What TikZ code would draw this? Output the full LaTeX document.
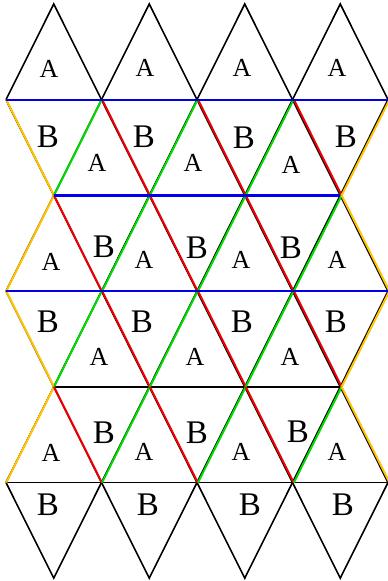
\documentclass[tikz,border=0pt]{standalone}
\usepackage{fontspec}
\setmainfont{Liberation Serif}
\definecolor{eblue}{RGB}{0,0,235}
\definecolor{egreen}{RGB}{0,220,0}
\definecolor{ered}{RGB}{240,0,0}
\definecolor{eyellow}{RGB}{255,195,0}
\begin{document}
\begin{tikzpicture}[x=1pt,y=-1pt,
  edge/.style={black,line width=1.6pt},
  cedge/.style={line width=2pt},
  bedge/.style={eblue,line width=2.3pt},
  la/.style={font=\fontsize{26}{26}\selectfont,inner sep=0pt},
  lb/.style={font=\fontsize{33}{33}\selectfont,inner sep=0pt}]
\useasboundingbox (0,0) rectangle (388,581);
% grid points
\foreach \r in {1,3,5} \foreach \c in {0,...,4}
  \coordinate (v\r-\c) at ({6+95.5*\c},{4+95.7*\r});
\foreach \r in {0,2,4,6} \foreach \c in {0,...,3}
  \coordinate (v\r-\c) at ({53.75+95.5*\c},{4+95.7*\r});
% black edges
\foreach \c in {0,...,3} {
  \pgfmathtruncatemacro\n{\c+1}
  \draw[edge] (v1-\c) -- (v0-\c) -- (v1-\n);
  \draw[edge] (v5-\c) -- (v6-\c) -- (v5-\n);
  \draw[edge] (v1-\c) -- (v2-\c) -- (v1-\n);
  \draw[edge] (v3-\c) -- (v4-\c) -- (v3-\n);
  \draw[edge] (v3-\c) -- (v2-\c) -- (v3-\n);
  \draw[edge] (v5-\c) -- (v4-\c) -- (v5-\n);
}
\draw[edge] (v1-0) -- (v1-4);
\draw[edge] (v3-0) -- (v3-4);
\draw[edge] (v5-0) -- (v5-4);
\draw[edge] (v2-0) -- (v2-3);
\draw[edge] (v4-0) -- (v4-3);
% coloured overlay
\foreach \r in {1,3} {
  \pgfmathtruncatemacro\rr{\r+1}
  \foreach \c/\ca/\cb in {0/eyellow/egreen,1/ered/egreen,2/ered/egreen,3/ered/eyellow} {
    \pgfmathtruncatemacro\n{\c+1}
    \pgfmathsetmacro\s{0.25+0.38*\c}
    \draw[cedge,\ca,transform canvas={xshift=\s pt}] (v\r-\c) -- (v\rr-\c);
    \draw[cedge,\cb,transform canvas={xshift=\s pt}] (v\r-\n) -- (v\rr-\c);
  }
}
\foreach \r in {2,4} {
  \pgfmathtruncatemacro\rr{\r+1}
  \foreach \c/\ca/\cb in {0/eyellow/ered,1/egreen/ered,2/egreen/ered,3/egreen/eyellow} {
    \pgfmathtruncatemacro\n{\c+1}
    \pgfmathsetmacro\s{0.25+0.38*\c}
    \draw[cedge,\ca,transform canvas={xshift=\s pt}] (v\r-\c) -- (v\rr-\c);
    \draw[cedge,\cb,transform canvas={xshift=\s pt}] (v\r-\c) -- (v\rr-\n);
  }
}
\draw[bedge] (v1-0) -- (v1-4);
\draw[bedge] (v2-0) -- (v2-3);
\draw[bedge] (v3-0) -- (v3-4);
% labels
\node[la] (a01) at (49,69) {A};
\node[la] (a02) at (145,68) {A};
\node[la] (a03) at (242,68) {A};
\node[la] (a04) at (337,68) {A};
\node[lb] (b11) at (48,137) {B};
\node[lb] (b12) at (144,137) {B};
\node[lb] (b13) at (244,138) {B};
\node[lb] (b14) at (346,137) {B};
\node[la] (a11) at (97,163) {A};
\node[la] (a12) at (193,163) {A};
\node[la] (a13) at (291,165) {A};
\node[la] (a21) at (51,262) {A};
\node[la] (a22) at (144,260) {A};
\node[la] (a23) at (241,260) {A};
\node[la] (a24) at (337,260) {A};
\node[lb] (b21) at (104,247) {B};
\node[lb] (b22) at (197,248) {B};
\node[lb] (b23) at (291,248) {B};
\node[lb] (b31) at (48,322) {B};
\node[lb] (b32) at (142,322) {B};
\node[lb] (b33) at (242,322) {B};
\node[lb] (b34) at (336,322) {B};
\node[la] (a31) at (99,357) {A};
\node[la] (a32) at (195,357) {A};
\node[la] (a33) at (290,357) {A};
\node[la] (a41) at (51,453) {A};
\node[la] (a42) at (144,452) {A};
\node[la] (a43) at (241,452) {A};
\node[la] (a44) at (337,452) {A};
\node[lb] (b41) at (104,433) {B};
\node[lb] (b42) at (197,433) {B};
\node[lb] (b43) at (298,432) {B};
\node[lb] (b51) at (48,505) {B};
\node[lb] (b52) at (148,505) {B};
\node[lb] (b53) at (250,505) {B};
\node[lb] (b54) at (343,505) {B};
\end{tikzpicture}
\end{document}
